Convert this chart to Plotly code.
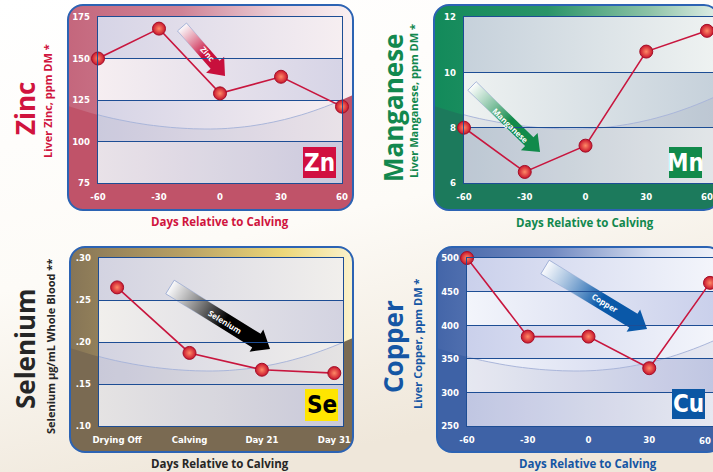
import base64
import math
import plotly.graph_objects as go

W, H = 713, 472

# ---------------- data ----------------
days = [-60, -30, 0, 30, 60]
day_ticklabels = ["-60", "-30", "0", "30", "60"]
zinc_ppm = [150, 168, 129, 139, 121]
manganese_ppm = [8.0, 6.4, 7.35, 10.75, 11.5]
selenium_stages = ["Drying Off", "Calving", "Day 21", "Day 31"]
selenium_ugml = [0.265, 0.187, 0.167, 0.163]
copper_ppm = [500, 383, 383, 336, 463]

zinc_ticks = [75, 100, 125, 150, 175]
mn_ticks = [6, 8, 10, 12]
se_ticks = [0.10, 0.15, 0.20, 0.25, 0.30]
se_ticklabels = [".10", ".15", ".20", ".25", ".30"]
cu_ticks = [250, 300, 350, 400, 450, 500]

# ---------------- panel styling / geometry (pixels) ----------------
panels = [
    dict(name="Zinc", sub="Liver Zinc, ppm DM *", sym="Zn",
         x=days, y=zinc_ppm, xticks=days, xticktext=day_ticklabels, edge_last=False,
         yticks=zinc_ticks, yticktext=[str(v) for v in zinc_ticks],
         frame=(68, 5, 353, 210), plot=(98, 17, 342, 183), xr=[-60, 60],
         base="#c05369", up=["#c4667c", "#cf8295", "#ecd3da", "#faf1f3"],
         bandA="#d6d4e6", bandB="#f6eef1", title_col="#d0143e", box_col="#d10f40", sym_col="white",
         arrow=dict(t=(182, 27), p=(225, 76), bw=12, hw=24, hl=15, col="#c8103c", txt_at=(208, 53)),
         title_at=(25, 109), sub_at=(47, 101), xt_at=(220, 221), box=(303, 147, 336, 178)),
    dict(name="Manganese", sub="Liver Manganese, ppm DM *", sym="Mn",
         x=days, y=manganese_ppm, xticks=days, xticktext=day_ticklabels, edge_last=False,
         yticks=mn_ticks, yticktext=[str(v) for v in mn_ticks],
         frame=(434, 5, 719, 210), plot=(464, 17, 713, 183), xr=[-60, 60 + 6 / 243 * 120],
         base="#1c7a5c", up=["#128a5a", "#2a9468", "#8cc2a6", "#e4f0ea"],
         bandA="#c6d1db", bandB="#eef2f1", title_col="#12884e", box_col="#118a4b", sym_col="white",
         arrow=dict(t=(472, 86), p=(540, 152), bw=12, hw=24, hl=15, col="#118a4b", txt_at=(511, 125)),
         title_at=(393, 108), sub_at=(413, 101), xt_at=(585, 222), box=(669, 147, 702, 178)),
    dict(name="Selenium", sub="Selenium µg/mL Whole Blood **", sym="Se",
         x=selenium_stages, y=selenium_ugml, xticks=selenium_stages, xticktext=selenium_stages, edge_last=False,
         yticks=se_ticks, yticktext=se_ticklabels,
         frame=(70, 247, 353, 452), plot=(99, 258, 343, 426), xr=[-0.25, 3.12],
         base="#7a6a52", up=["#857456", "#b7a064", "#ecd779", "#fbf3cf"],
         bandA="#d3d3e1", bandB="#f1efec", title_col="#262626", box_col="#ffe500", sym_col="black",
         arrow=dict(t=(170, 287), p=(270, 349), bw=16, hw=26, hl=16, col="#000000", txt_at=(225, 321)),
         title_at=(25, 349), sub_at=(50, 347), xt_at=(220, 463), box=(305, 389, 338, 421)),
    dict(name="Copper", sub="Liver Copper, ppm DM *", sym="Cu",
         x=days, y=copper_ppm, xticks=days, xticktext=day_ticklabels, edge_last=True,
         yticks=cu_ticks, yticktext=[str(v) for v in cu_ticks],
         frame=(437, 247, 722, 452), plot=(467, 258, 713, 426), xr=[-60, 60 + 3 / 243 * 120],
         base="#3e62a6", up=["#4365a8", "#7088c0", "#d4dcef", "#f2f4fa"],
         bandA="#cad0eb", bandB="#f3f5fb", title_col="#1556a4", box_col="#0b57a4", sym_col="white",
         arrow=dict(t=(545, 267), p=(647, 329), bw=16, hw=26, hl=16, col="#0a58a8", txt_at=(605, 302)),
         title_at=(393, 347), sub_at=(417, 344), xt_at=(588, 463), box=(672, 389, 705, 419)),
]


def curve_pts(frame):
    fx0, fy0, _, _ = frame
    w = 285
    lx, ly = fx0, fy0 + 101
    mx, my = fx0 + 0.49 * w, fy0 + 124
    rx, ry = fx0 + w, fy0 + 90
    pts = []
    n = 50
    for k in range(n + 1):
        x = lx + (rx - lx) * k / n
        if x <= mx:
            a = (my - ly) / (mx - lx) ** 2
        else:
            a = (my - ry) / (rx - mx) ** 2
        pts.append((x, my - a * (x - mx) ** 2))
    return pts


def grad(id_, stops, x2="1", y2="0"):
    s = "".join(f'<stop offset="{o}" stop-color="{c}" stop-opacity="{op}"/>' for o, c, op in stops)
    return f'<linearGradient id="{id_}" x1="0" y1="0" x2="{x2}" y2="{y2}">{s}</linearGradient>'


svg = [f'<svg xmlns="http://www.w3.org/2000/svg" width="{W}" height="{H}" viewBox="0 0 {W} {H}">']
defs = [grad("page", [(0, "#ffffff", 1), (0.55, "#fdfbf7", 1), (1, "#efe7da", 1)], x2="0.35", y2="1")]
body = [f'<rect x="0" y="0" width="{W}" height="{H}" fill="url(#page)"/>']

for i, p in enumerate(panels):
    fx0, fy0, fx1, fy1 = p["frame"]
    px0, py0, px1, py1 = p["plot"]
    defs.append(grad(f"up{i}", [(0, p["up"][0], 1), (0.4, p["up"][1], 1), (0.75, p["up"][2], 1), (1, p["up"][3], 1)]))
    defs.append(grad(f"ba{i}", [(0, p["bandA"], 1), (1, p["bandB"], 1)]))
    defs.append(grad(f"bb{i}", [(0, p["bandB"], 1), (1, p["bandA"], 1)]))
    defs.append(f'<clipPath id="fc{i}"><rect x="{fx0}" y="{fy0}" width="{fx1-fx0}" height="{fy1-fy0}" rx="15" ry="15"/></clipPath>')
    defs.append(f'<clipPath id="pc{i}"><rect x="{px0}" y="{py0}" width="{px1-px0}" height="{py1-py0}"/></clipPath>')
    cp = curve_pts(p["frame"])
    cstr = " ".join(f"{x:.1f},{y:.1f}" for x, y in cp)
    upper = f"M{fx0-2},{fy0-2} L{fx1+2},{fy0-2} L{fx1+2},{cp[-1][1]:.1f} L" + " L".join(
        f"{x:.1f},{y:.1f}" for x, y in reversed(cp)) + " Z"
    lower = f"M{cp[0][0]:.1f},{cp[0][1]:.1f} L" + " L".join(f"{x:.1f},{y:.1f}" for x, y in cp) + \
        f" L{fx1+2},{cp[-1][1]:.1f} L{fx1+2},{fy1+2} L{fx0-2},{fy1+2} Z"
    body.append(f'<g clip-path="url(#fc{i})"><rect x="{fx0}" y="{fy0}" width="{fx1-fx0}" height="{fy1-fy0}" fill="{p["base"]}"/>'
                f'<path d="{upper}" fill="url(#up{i})"/></g>')
    body.append(f'<rect x="{fx0}" y="{fy0}" width="{fx1-fx0}" height="{fy1-fy0}" rx="15" ry="15" fill="none" stroke="#2c63b3" stroke-width="2"/>')
    # bands between gridlines (pixel positions derived from the axis range)
    ticks = p["yticks"]
    ymin, ymax = ticks[0], ticks[-1]

    def ypx(v):
        return py0 + (ymax - v) / (ymax - ymin) * (py1 - py0)

    band_g = []
    for k in range(len(ticks) - 1):
        top = ypx(ticks[-1 - k])
        bot = ypx(ticks[-2 - k])
        g = f"ba{i}" if k % 2 == 0 else f"bb{i}"
        band_g.append(f'<rect x="{px0}" y="{top:.1f}" width="{px1-px0}" height="{bot-top:.1f}" fill="url(#{g})"/>')
    body.append(f'<g clip-path="url(#pc{i})">' + "".join(band_g) +
                f'<path d="{lower}" fill="rgb(70,70,120)" fill-opacity="0.07"/>'
                f'<polyline points="{cstr}" fill="none" stroke="#aab6da" stroke-width="1"/></g>')
    # gradient arrow
    a = p["arrow"]
    tx, ty = a["t"]
    ex, ey = a["p"]
    L = math.hypot(ex - tx, ey - ty)
    ang = math.degrees(math.atan2(ey - ty, ex - tx))
    bw, hw, hl = a["bw"], a["hw"], a["hl"]
    pts = [(0, -bw / 2), (L - hl, -bw / 2), (L - hl, -hw / 2), (L, 0), (L - hl, hw / 2), (L - hl, bw / 2), (0, bw / 2)]
    ps = " ".join(f"{x:.1f},{y:.1f}" for x, y in pts)
    defs.append(f'<linearGradient id="ar{i}" gradientUnits="userSpaceOnUse" x1="0" y1="0" x2="{L:.1f}" y2="0">'
                f'<stop offset="0" stop-color="#ffffff" stop-opacity="0.85"/>'
                f'<stop offset="0.55" stop-color="{a["col"]}" stop-opacity="1"/>'
                f'<stop offset="1" stop-color="{a["col"]}" stop-opacity="1"/></linearGradient>')
    defs.append(f'<linearGradient id="as{i}" gradientUnits="userSpaceOnUse" x1="0" y1="0" x2="{L:.1f}" y2="0">'
                f'<stop offset="0" stop-color="#8fa2cf" stop-opacity="0.9"/>'
                f'<stop offset="0.5" stop-color="#8fa2cf" stop-opacity="0"/></linearGradient>')
    body.append(f'<polygon transform="translate({tx},{ty}) rotate({ang:.2f})" points="{ps}" fill="url(#ar{i})" stroke="url(#as{i})" stroke-width="0.8"/>')

svg.append("<defs>" + "".join(defs) + "</defs>")
svg.extend(body)
svg.append("</svg>")
svg_uri = "data:image/svg+xml;base64," + base64.b64encode("".join(svg).encode("utf-8")).decode("ascii")

# ---------------- figure ----------------
fig = go.Figure()
COND = "DejaVu Sans Condensed, Liberation Sans Narrow, sans-serif"
TICKFONT = dict(family=COND, size=9.5, color="white", weight="bold")
LINE = "#1d4d94"
layout = dict(width=W, height=H, margin=dict(l=0, r=0, t=0, b=0, pad=0), autosize=False,
              paper_bgcolor="white", plot_bgcolor="rgba(0,0,0,0)", showlegend=False,
              images=[dict(source=svg_uri, xref="paper", yref="paper", x=0, y=1, sizex=1, sizey=1,
                           xanchor="left", yanchor="top", sizing="stretch", layer="below")])
shapes, annotations = [], []

for i, p in enumerate(panels):
    n = "" if i == 0 else str(i + 1)
    px0, py0, px1, py1 = p["plot"]
    ticktext = list(p["xticktext"])
    if p["edge_last"]:
        # last tick label sits at the very right edge: draw it right-aligned so it stays inside
        annotations.append(dict(text=ticktext[-1], x=p["xticks"][-1], xref="x" + n, y=0, yref="y" + n + " domain",
                                xanchor="right", yanchor="middle", xshift=2, yshift=-14, showarrow=False,
                                borderpad=0, font=TICKFONT))
        ticktext[-1] = ""
    layout["xaxis" + n] = dict(domain=[px0 / W, min(px1 / W, 1)], range=p["xr"], anchor="y" + n,
                               tickvals=p["xticks"], ticktext=ticktext, tickfont=TICKFONT,
                               showgrid=False, zeroline=False, showline=True, mirror=True, linecolor=LINE,
                               linewidth=1.2, ticks="", ticklabelstandoff=4, fixedrange=True, automargin=False,
                               ticklabeloverflow="allow")
    layout["yaxis" + n] = dict(domain=[1 - py1 / H, 1 - py0 / H], range=[p["yticks"][0], p["yticks"][-1]],
                               anchor="x" + n, tickvals=p["yticks"], ticktext=p["yticktext"], tickfont=TICKFONT,
                               showgrid=True, gridcolor=LINE, gridwidth=1.2, zeroline=False, showline=True,
                               mirror=True, linecolor=LINE, linewidth=1.2, ticks="", ticklabelstandoff=5,
                               fixedrange=True, automargin=False, ticklabeloverflow="allow")
    fig.add_trace(go.Scatter(x=p["x"], y=p["y"], xaxis="x" + n, yaxis="y" + n, mode="lines+markers",
                             cliponaxis=False,
                             line=dict(color="#c8163e", width=1.6),
                             marker=dict(size=13, color="#c8142c", line=dict(color="#a30f28", width=1),
                                         gradient=dict(type="radial", color="#ff8a66")),
                             name=p["name"]))
    bx0, by0, bx1, by1 = p["box"]
    shapes.append(dict(type="rect", xref="paper", yref="paper", x0=bx0 / W, x1=bx1 / W, y0=1 - by1 / H,
                       y1=1 - by0 / H, fillcolor=p["box_col"], line=dict(width=0), layer="above"))
    annotations.append(dict(text=p["sym"], x=(bx0 + bx1) / 2 / W, y=1 - (by0 + by1) / 2 / H, xref="paper",
                            yref="paper", showarrow=False, xanchor="center", yanchor="middle",
                            font=dict(family=COND, size=24, color=p["sym_col"], weight="bold")))
    tx, ty = p["title_at"]
    annotations.append(dict(text=p["name"], x=tx / W, y=1 - ty / H, xref="paper", yref="paper",
                            showarrow=False, textangle=-90, xanchor="center", yanchor="middle",
                            font=dict(family="Open Sans, sans-serif", size=26, color=p["title_col"], weight="bold")))
    sx, sy = p["sub_at"]
    annotations.append(dict(text=p["sub"], x=sx / W, y=1 - sy / H, xref="paper", yref="paper",
                            showarrow=False, textangle=-90, xanchor="center", yanchor="middle",
                            font=dict(family="Open Sans, sans-serif", size=11, color=p["title_col"], weight="bold")))
    xx, xy = p["xt_at"]
    annotations.append(dict(text="Days Relative to Calving", x=xx / W, y=1 - xy / H, xref="paper", yref="paper",
                            showarrow=False, xanchor="center", yanchor="middle",
                            font=dict(family="Open Sans, sans-serif", size=11.5, color=p["title_col"], weight="bold")))
    a = p["arrow"]
    ang = math.degrees(math.atan2(a["p"][1] - a["t"][1], a["p"][0] - a["t"][0]))
    ax, ay = a["txt_at"]
    annotations.append(dict(text=p["name"], x=ax / W, y=1 - ay / H, xref="paper", yref="paper",
                            showarrow=False, textangle=ang, xanchor="center", yanchor="middle",
                            font=dict(family="Open Sans, sans-serif", size=8, color="white", weight="bold")))

layout["shapes"] = shapes
layout["annotations"] = annotations
fig.update_layout(**layout)
fig.write_html("out.html")
